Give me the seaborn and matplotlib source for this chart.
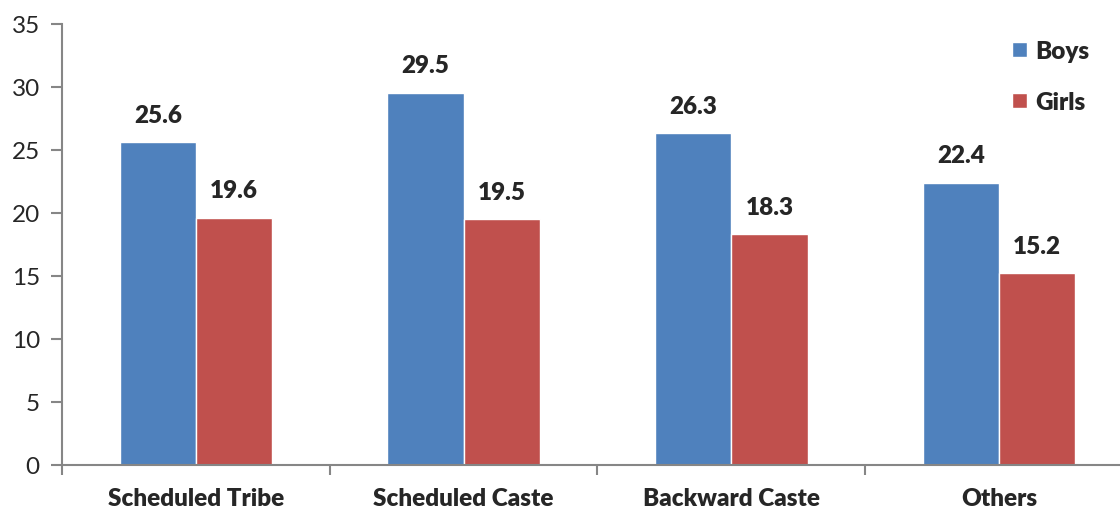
import matplotlib
matplotlib.use("Agg")
import matplotlib.pyplot as plt
import seaborn as sns
import pandas as pd

categories = ["Scheduled Tribe", "Scheduled Caste", "Backward Caste", "Others"]
boys = [25.6, 29.5, 26.3, 22.4]
girls = [19.6, 19.5, 18.3, 15.2]
series = ["Boys", "Girls"]
colors = ["#4F81BD", "#C0504D"]

df = pd.DataFrame({
    "category": categories * 2,
    "value": boys + girls,
    "group": [series[0]] * 4 + [series[1]] * 4,
})

sns.set_style("white")
plt.rcParams["font.family"] = ["Lato", "DejaVu Sans"]

fig = plt.figure(figsize=(11.2, 5.1), dpi=100)
# axis runs a little past the right edge of the picture, as in the original
ax = fig.add_axes([0.0554, 0.0863, 0.956, 0.865])

sns.barplot(data=df, x="category", y="value", hue="group", order=categories,
            hue_order=series, palette=colors, width=0.57, saturation=1,
            ax=ax, legend=True)

for container in ax.containers:
    ax.bar_label(container, fmt="%.1f", padding=12, fontsize=17.5, fontweight="heavy")

ax.set_xlim(-0.5, 3.5)
ax.set_ylim(0, 35)
ax.set_yticks(range(0, 36, 5))
ax.set_xlabel("")
ax.set_ylabel("")

ax.tick_params(axis="y", which="major", length=8, width=1.5, color="#868686",
               labelsize=17.5, direction="out", left=True, pad=8)
ax.tick_params(axis="x", which="major", length=0, labelsize=17.5, pad=16)
for lbl in ax.get_xticklabels():
    lbl.set_fontweight("heavy")
ax.set_xticks([-0.5, 0.5, 1.5, 2.5, 3.5], minor=True)
ax.tick_params(axis="x", which="minor", length=7, width=1.5, color="#868686",
               direction="out", bottom=True)

for side in ["top", "right"]:
    ax.spines[side].set_visible(False)
for side in ["left", "bottom"]:
    ax.spines[side].set_color("#868686")
    ax.spines[side].set_linewidth(1.5)

ax.legend(loc="upper left", bbox_to_anchor=(0.904, 0.92), bbox_transform=fig.transFigure,
          frameon=False, borderaxespad=0, borderpad=0,
          handlelength=0.6, handleheight=0.6, handletextpad=0.35,
          labelspacing=1.2, prop={"size": 17.5, "weight": "heavy"})

fig.savefig("out.png", dpi=100)
